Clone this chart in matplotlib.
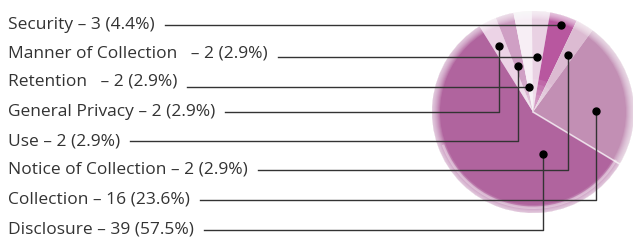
import matplotlib
matplotlib.use("Agg")
import matplotlib.pyplot as plt
from matplotlib.patches import Wedge
import numpy as np

# ---- data ----
categories = ["Security", "Manner of Collection", "Retention", "General Privacy",
              "Use", "Notice of Collection", "Collection", "Disclosure"]
counts = [3, 2, 2, 2, 2, 2, 16, 39]
pcts = [4.4, 2.9, 2.9, 2.9, 2.9, 2.9, 23.6, 57.5]
label_sep = ["", "  ", "  ", "", "", "", "", ""]

# ---- layout / style ----
W, H = 633, 244
pie_order = ["General Privacy", "Use", "Retention", "Manner of Collection",
             "Security", "Notice of Collection", "Collection", "Disclosure"]
colors = {"General Privacy": "#ecd3e6", "Use": "#cf9fc4", "Retention": "#f7eef5",
          "Manner of Collection": "#e9d1e3", "Security": "#b8579f",
          "Notice of Collection": "#dcbbd2", "Collection": "#c28fb4",
          "Disclosure": "#b0649e"}
# anchor of each dot inside its wedge: (fraction across wedge, radius fraction)
anchor = {"General Privacy": (0.55, 0.73), "Use": (0.68, 0.48), "Retention": (0.85, 0.25),
          "Manner of Collection": (0.55, 0.55), "Security": (0.5, 0.9),
          "Notice of Collection": (0.4, 0.66), "Collection": (0.38, 0.62),
          "Disclosure": (0.78, 0.43)}
direct = {"Security", "Manner of Collection", "Retention"}
row_y = [25, 54, 82, 112, 141, 170, 200, 230]   # from top
cx, cy, R = 533, H - 112, 101
text_x = 8
gap = 10
txt_color = "#333333"
line_color = "#333333"

fig = plt.figure(figsize=(W / 100, H / 100), dpi=100)
ax = fig.add_axes([0, 0, 1, 1])
ax.set_xlim(0, W)
ax.set_ylim(0, H)
ax.axis("off")

vals = [pcts[categories.index(c)] for c in pie_order]
wedges, _ = ax.pie(vals, colors=[colors[c] for c in pie_order], startangle=122,
                   counterclock=False, center=(cx, cy), radius=R,
                   wedgeprops=dict(edgecolor="none"))
ax.set_xlim(0, W)
ax.set_ylim(0, H)
ax.set_aspect("equal")

# white separator between Disclosure and Collection
wd = wedges[pie_order.index("Collection")]
a = np.deg2rad(wd.theta1)
ax.plot([cx, cx + R * np.cos(a)], [cy, cy + R * np.sin(a)], color="white", lw=1.2, alpha=0.7, zorder=3)

# soft fading edge
for k in range(8):
    r_in = R - 8 + k
    ax.add_patch(Wedge((cx, cy), R + 0.5, 0, 360, width=R + 0.5 - r_in,
                       facecolor="white", edgecolor="none", alpha=0.12, zorder=4))
ax.add_patch(Wedge((cx, cy), R - 4, 200, 330, width=2.5, facecolor="white",
                   edgecolor="none", alpha=0.35, zorder=4))
# lighten near apex of the small wedges
for k in range(6):
    ax.add_patch(Wedge((cx, cy), 8 + k * 5, 54, 122, facecolor="white",
                       edgecolor="none", alpha=0.10, zorder=3))

fig.canvas.draw()
renderer = fig.canvas.get_renderer()

for i, cat in enumerate(categories):
    ty = H - row_y[i]
    label = f"{cat}{label_sep[i]} – {counts[i]} ({pcts[i]}%)"
    t = ax.text(text_x, ty, label, fontsize=12.5, family=["Open Sans", "DejaVu Sans"],
                color=txt_color, va="center", ha="left")
    bb = t.get_window_extent(renderer=renderer)
    x_end = ax.transData.inverted().transform((bb.x1, bb.y0))[0] + gap

    wdg = wedges[pie_order.index(cat)]
    f, rf = anchor[cat]
    ang = np.deg2rad(wdg.theta1 + f * (wdg.theta2 - wdg.theta1))
    dx, dy = cx + rf * R * np.cos(ang), cy + rf * R * np.sin(ang)
    if cat in direct:
        ax.plot([x_end, dx], [dy, dy], color=line_color, lw=1.0, zorder=5)
    else:
        ax.plot([x_end, dx, dx], [ty, ty, dy], color=line_color, lw=1.0, zorder=5)
    ax.plot(dx, dy, "o", color="black", ms=5, zorder=6)

fig.savefig("out.png", dpi=100)
